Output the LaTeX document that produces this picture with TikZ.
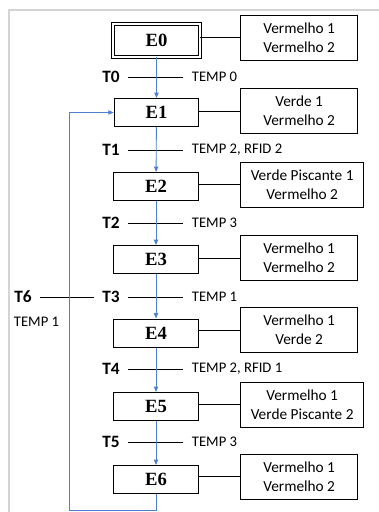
\documentclass[tikz,border=0pt]{standalone}
\usepackage{fontspec}
\setmainfont{Carlito}
\newfontfamily\stateface{Liberation Serif}
\usetikzlibrary{positioning, arrows.meta, calc}
\definecolor{flowBlue}{HTML}{4F7FD0}
\definecolor{frameGray}{HTML}{D4D4D4}

\begin{document}
\begin{tikzpicture}[
  x=0.75pt, y=-0.75pt,
  state/.style={draw, line width=0.75pt, minimum width=63.5pt,
                minimum height=21pt, inner sep=0pt,
                font=\stateface\fontsize{14}{16}\selectfont\bfseries},
  init/.style={state, double, double distance=1.5pt,
               minimum width=65pt, minimum height=24.6pt},
  lamps/.style={draw, line width=0.75pt, anchor=west, align=center,
                minimum width=88pt, minimum height=33.75pt,
                font=\fontsize{11.5}{14.5}\selectfont},
  tlabel/.style={anchor=east, inner xsep=6pt,
                 font=\fontsize{13}{15}\selectfont\bfseries},
  cond/.style={anchor=west, inner xsep=6.5pt,
               font=\fontsize{11}{13}\selectfont},
  link/.style={line width=0.75pt},
  bar/.style={line width=0.75pt},
  arr/.style={-{Triangle[length=4pt, width=3.2pt]}, line width=0.65pt, flowBlue}
]
\useasboundingbox (0,0) rectangle (379,512);
\draw[frameGray, line width=1.2pt] (9,512) -- (9,10) -- (379,10);

\node[init] (e0) at (156.5,40.5) {E0};
\node[state] (e1) at (156.5,112.5) {E1};
\node[state] (e2) at (156,186.5) {E2};
\node[state] (e3) at (156,259.5) {E3};
\node[state] (e4) at (156,333) {E4};
\node[state] (e5) at (156,406.5) {E5};
\node[state] (e6) at (156,479.5) {E6};

\node[lamps] (r0) at (240,37.5) {Vermelho 1\\Vermelho 2};
\node[lamps] (r1) at (240,111) {Verde 1\\Vermelho 2};
\node[lamps, minimum width=92.5pt] (r2) at (240,184.5) {Verde Piscante 1\\Vermelho 2};
\node[lamps] (r3) at (240,258) {Vermelho 1\\Vermelho 2};
\node[lamps] (r4) at (240,330) {Vermelho 1\\Verde 2};
\node[lamps, minimum width=92.5pt] (r5) at (240,404.5) {Vermelho 1\\Verde Piscante 2};
\node[lamps] (r6) at (240,476.5) {Vermelho 1\\Vermelho 2};

\draw[link] (r0.west -| e0.east) -- (r0.west);
\draw[link] (r1.west -| e1.east) -- (r1.west);
\draw[link] (r2.west -| e2.east) -- (r2.west);
\draw[link] (r3.west -| e3.east) -- (r3.west);
\draw[link] (r4.west -| e4.east) -- (r4.west);
\draw[link] (r5.west -| e5.east) -- (r5.west);
\draw[link] (r6.west -| e6.east) -- (r6.west);

\node[tlabel] (t0) at (128,77) {T0};
\node[cond] (c0) at (183,77) {TEMP 0};
\node[tlabel] (t1) at (128,150) {T1};
\node[cond] (c1) at (183,150) {TEMP 2, RFID 2};
\node[tlabel] (t2) at (128,223) {T2};
\node[cond] (c2) at (183,223) {TEMP 3};
\node[tlabel] (t3) at (128,297) {T3};
\node[cond] (c3) at (183,297) {TEMP 1};
\node[tlabel] (t4) at (128,369) {T4};
\node[cond] (c4) at (183,369) {TEMP 2, RFID 1};
\node[tlabel] (t5) at (128,442) {T5};
\node[cond] (c5) at (183,442) {TEMP 3};
\node[tlabel] (t6) at (40,297) {T6};
\node[cond] (c6) at (5,322) {TEMP 1};

\draw[bar] (t0.east) -- (c0.west);
\draw[bar] (t1.east) -- (c1.west);
\draw[bar] (t2.east) -- (c2.west);
\draw[bar] (t3.east) -- (c3.west);
\draw[bar] (t4.east) -- (c4.west);
\draw[bar] (t5.east) -- (c5.west);
\draw[bar] (t6.east) -- (t3.west);

\coordinate (back) at (69,510);
\draw[arr] (e0) -- (e1);
\draw[arr] (e1) -- (e2);
\draw[arr] (e2) -- (e3);
\draw[arr] (e3) -- (e4);
\draw[arr] (e4) -- (e5);
\draw[arr] (e5) -- (e6);
\draw[arr] (e6.south) -- (e6.south |- back) -- (back) |- (e1.west);
\end{tikzpicture}
\end{document}
